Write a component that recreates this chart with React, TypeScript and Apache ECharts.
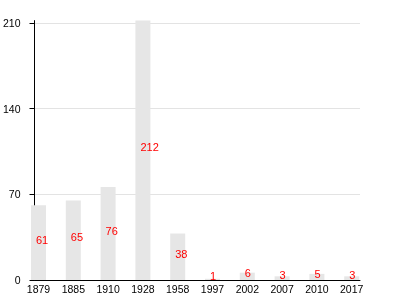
import React, { useEffect, useRef } from "react";
import * as echarts from "echarts";

const categories = ["1879", "1885", "1910", "1928", "1958", "1997", "2002", "2007", "2010", "2017"];
const values = [61, 65, 76, 212, 38, 1, 6, 3, 5, 3];
const yTicks = [0, 70, 140, 210];

export default function App() {
  const ref = useRef<HTMLDivElement>(null);
  useEffect(() => {
    const chart = echarts.init(ref.current!, undefined, { renderer: "svg" });
    const font = "Liberation Sans, Arial, sans-serif";
    const yMax = Math.max(...values);
    chart.setOption({
      animation: false,
      textStyle: { fontFamily: font },
      grid: [
        { left: 30, right: 40, top: 20.6, bottom: 20, containLabel: false },
        { left: 38.5, right: 48.3, top: 20.6, bottom: 20, containLabel: false },
      ],
      xAxis: [
        {
          gridIndex: 0,
          type: "value",
          min: 0,
          max: 1,
          axisLine: { show: true, onZero: false, lineStyle: { color: "#000", width: 1 } },
          axisTick: { show: false },
          axisLabel: { show: false },
          splitLine: { show: false },
        },
        {
          gridIndex: 1,
          type: "category",
          data: categories,
          boundaryGap: false,
          axisLine: { show: false },
          axisTick: { show: false },
          splitLine: { show: false },
          axisLabel: { color: "#000", fontSize: 10.5, fontFamily: font, margin: 3, interval: 0 },
        },
      ],
      yAxis: [
        {
          gridIndex: 0,
          type: "value",
          min: 0,
          max: yMax,
          axisLine: { show: true, onZero: false, lineStyle: { color: "#000", width: 1 } },
          axisTick: { show: true, length: 5, lineStyle: { color: "#000" }, customValues: yTicks },
          axisLabel: { customValues: yTicks, color: "#000", fontSize: 10.5, fontFamily: font, margin: 14 },
          splitLine: { show: true, lineStyle: { color: "#e3e3e3", width: 1 } },
        },
        {
          gridIndex: 1,
          type: "value",
          min: 0,
          max: yMax,
          show: false,
        },
      ],
      series: [
        {
          type: "bar",
          xAxisIndex: 1,
          yAxisIndex: 1,
          data: values,
          barWidth: 15,
          itemStyle: { color: "#e6e6e6" },
          label: {
            show: true,
            position: "inside",
            align: "left",
            offset: [-2.5, -3],
            color: "#ff0000",
            fontSize: 11,
            fontFamily: font,
          },
        },
      ],
    });
    return () => chart.dispose();
  }, []);
  return <div ref={ref} style={{ position: "fixed", left: 0, top: 0, width: 400, height: 300 }} />;
}
